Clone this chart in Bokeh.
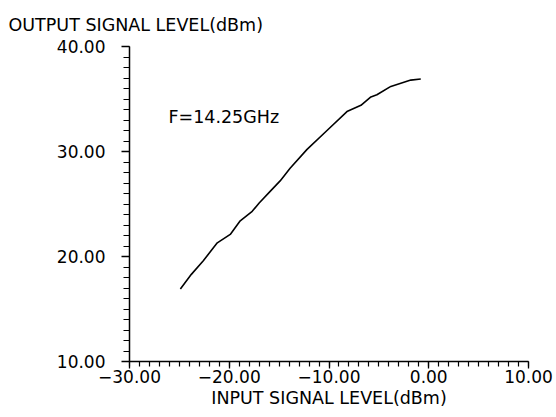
from bokeh.plotting import figure
from bokeh.models import Range1d, FixedTicker, CustomJSTickFormatter, Label, Title
from bokeh.embed import file_html
from bokeh.resources import INLINE

# Data
input_dbm = [-24.9, -23.8, -22.6, -21.2, -19.9, -18.9, -17.7, -17.0, -15.9, -14.9,
             -13.9, -12.2, -10.2, -8.2, -6.8, -5.8, -5.2, -3.8, -1.8, -0.8]
output_dbm = [16.9, 18.3, 19.6, 21.3, 22.1, 23.4, 24.3, 25.1, 26.2, 27.2,
              28.4, 30.2, 32.0, 33.8, 34.4, 35.2, 35.4, 36.2, 36.8, 36.9]
x_ticks = [-30, -20, -10, 0, 10]
x_minor_ticks = list(range(-30, 11))
y_ticks = [10, 20, 30, 40]
y_minor_ticks = list(range(10, 41))
annotation_text = "F=14.25GHz"
annotation_pos = (-26.1, 33.3)
x_title = "INPUT SIGNAL LEVEL(dBm)"
y_title = "OUTPUT SIGNAL LEVEL(dBm)"

FONT = "DejaVu Sans"
x_lo, x_hi = -30, 10
y_lo, y_hi = 10, 40

p = figure(width=556, height=417, output_backend="svg", toolbar_location=None,
           x_range=Range1d(x_lo, x_hi), y_range=Range1d(y_lo, y_hi),
           min_border_left=129, min_border_right=28, min_border_top=44, min_border_bottom=56)
p.title = Title(text=y_title, align="left", offset=-121, text_font=FONT,
                text_font_size="17.5px", text_font_style="normal", text_color="black",
                standoff=24)
p.outline_line_color = None
p.xgrid.visible = False
p.ygrid.visible = False

p.line(input_dbm, output_dbm, line_color="black", line_width=1.6)

p.add_layout(Label(x=annotation_pos[0], y=annotation_pos[1], text=annotation_text,
                   text_font=FONT, text_font_size="17.5px", text_color="black",
                   text_baseline="middle", text_align="left"))

fmt = CustomJSTickFormatter(code="""
return (tick < 0 ? "\u2212" : "") + Math.abs(tick).toFixed(2);
""")

xa = p.xaxis[0]
xa.ticker = FixedTicker(ticks=x_ticks, minor_ticks=x_minor_ticks)
xa.formatter = fmt
xa.axis_label = x_title
xa.axis_label_standoff = 2
xa.axis_label_text_font = FONT
xa.axis_label_text_font_size = "17.5px"
xa.axis_label_text_font_style = "normal"
xa.axis_label_text_color = "black"

ya = p.yaxis[0]
ya.ticker = FixedTicker(ticks=y_ticks, minor_ticks=y_minor_ticks)
ya.formatter = fmt

for ax in (xa, ya):
    ax.axis_line_color = "black"
    ax.axis_line_width = 1.5
    ax.major_tick_line_color = "black"
    ax.minor_tick_line_color = "black"
    ax.major_tick_line_width = 1.3
    ax.minor_tick_line_width = 1.2
    ax.major_tick_in = 0
    ax.minor_tick_in = 0
    ax.major_label_text_font = FONT
    ax.major_label_text_font_size = "17px"
    ax.major_label_text_color = "black"

xa.major_tick_out = 7
xa.minor_tick_out = 5
xa.major_label_standoff = 1
ya.major_tick_out = 8
ya.minor_tick_out = 6
ya.major_label_standoff = 16

open("out.html", "w").write(file_html(p, INLINE))
